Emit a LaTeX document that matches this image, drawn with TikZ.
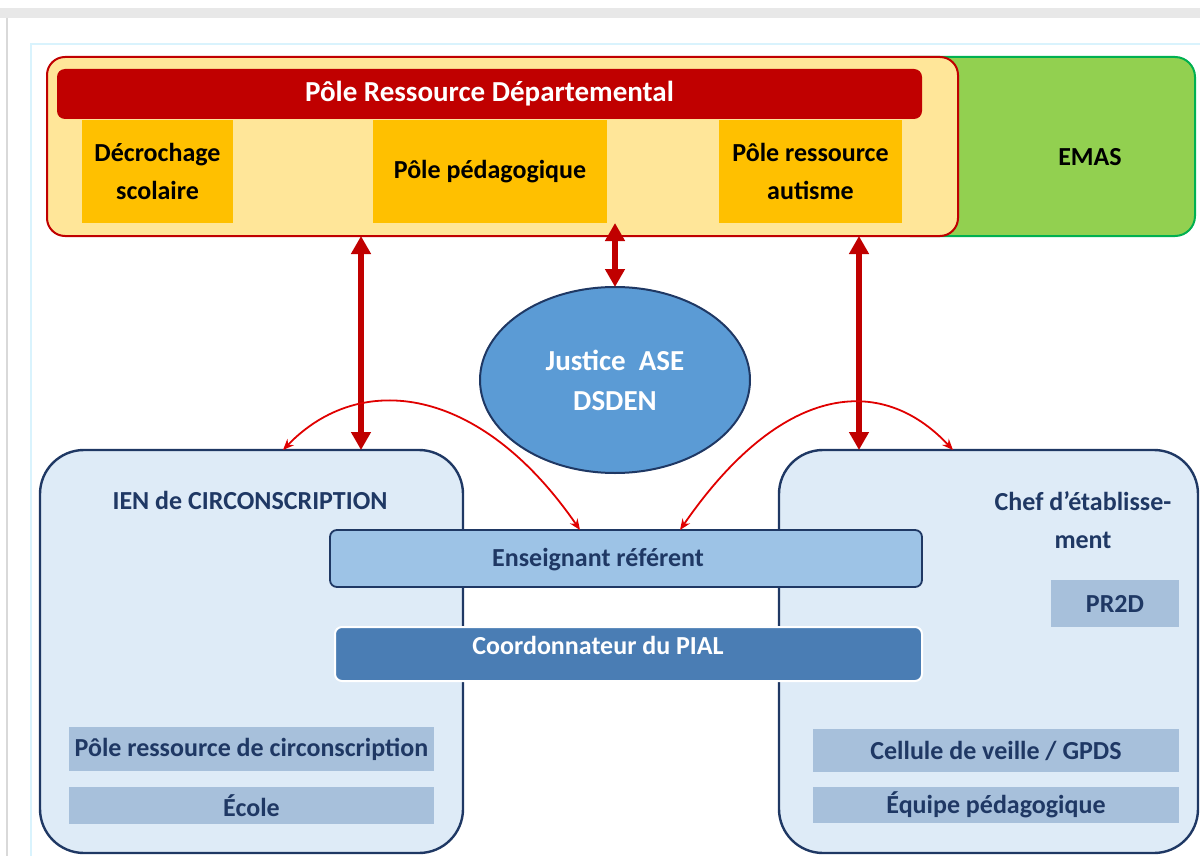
\documentclass[tikz,border=0pt]{standalone}
\usepackage{fontspec}
\setmainfont{Carlito}
\usepackage{tikz}
\usetikzlibrary{arrows.meta,shapes.geometric}

\definecolor{prdred}{HTML}{C00000}
\definecolor{thinred}{HTML}{E00000}
\definecolor{prdfill}{HTML}{FFE699}
\definecolor{amber}{HTML}{FFC000}
\definecolor{emasgreen}{HTML}{92D050}
\definecolor{emasline}{HTML}{00B050}
\definecolor{navy}{HTML}{1F3864}
\definecolor{paleblue}{HTML}{DEEBF7}
\definecolor{midblue}{HTML}{9DC3E6}
\definecolor{deepblue}{HTML}{4A7DB4}
\definecolor{ovalblue}{HTML}{5B9BD5}
\definecolor{barblue}{HTML}{A7C0DB}

\begin{document}
\begin{tikzpicture}[
				x=0.5pt, y=0.5pt,
				every node/.append style={font=\fontsize{13}{19}\selectfont\bfseries, inner sep=0pt, outer sep=0pt, align=center},
				frame/.style={rectangle, draw=prdred, line width=1pt, fill=prdfill, rounded corners=9pt},
				subbox/.style={rectangle, fill=amber, text=black},
				bigbox/.style={rectangle, draw=navy, line width=1.2pt, fill=paleblue, rounded corners=22pt},
				bar/.style={rectangle, fill=barblue, text=navy},
				lbl/.style={text=navy},
				twoway/.style={prdred, line width=3pt, {Triangle[length=9pt,width=9.5pt]}-{Triangle[length=9pt,width=9.5pt]}},
				curvy/.style={thinred, line width=0.9pt, {Stealth[length=5.5pt,width=4.5pt]}-{Stealth[length=5.5pt,width=4.5pt]}}
				]
				\useasboundingbox (0,0) rectangle (1200,-856);
				\fill[black!9] (0,-8) rectangle (1200,-18);
				\draw[black!15, line width=0.8pt] (7,-18) -- (7,-856);
				\draw[cyan!15, line width=0.8pt] (31,-856) |- (1200,-44);
				
				\node (emas) [rectangle, draw=emasline, line width=1pt, fill=emasgreen, rounded corners=10pt, minimum width=152.5pt, minimum height=89.5pt] at (1042.5,-146.5) {};
				\node (emastxt) [text=black] at (1090,-157) {EMAS};
				\node (prd) [frame, minimum width=455.5pt, minimum height=89.5pt] at (502.5,-146.5) {};
				\node (title) [rectangle, fill=prdred, rounded corners=4pt, text=white, font=\fontsize{14.5}{17}\selectfont\bfseries, minimum width=432.5pt, minimum height=25pt] at (489.5,-94) {Pôle Ressource Départemental};
				
				\node (dec) [subbox, minimum width=75.5pt, minimum height=51.5pt] at (157.5,-171.5) {Décrochage\\scolaire};
				\node (ped) [subbox, minimum width=117pt, minimum height=51.5pt] at (490,-171.5) {Pôle pédagogique};
				\node (aut) [subbox, minimum width=91.5pt, minimum height=51.5pt] at (810.5,-171.5) {Pôle ressource\\autisme};
				
				\node (just) [ellipse, draw=navy, line width=1pt, fill=ovalblue, text=white, font=\fontsize{14.5}{20}\selectfont\bfseries, minimum width=135pt, minimum height=93pt] at (615,-380) {Justice\ \ ASE\\DSDEN};
				
				\node (ien) [bigbox, minimum width=211.5pt, minimum height=201.5pt] at (251.5,-651.5) {};
				\node (chef) [bigbox, minimum width=209.5pt, minimum height=201.5pt] at (988.5,-651.5) {};
				\node (ientitle) [lbl] at (250,-500) {IEN de CIRCONSCRIPTION};
				\node (cheftitle) [lbl] at (1083,-520) {Chef d’établisse-\\ment};
				
				\node (ens) [rectangle, draw=navy, line width=0.9pt, fill=midblue, rounded corners=3.5pt, minimum width=296pt, minimum height=28.5pt] at (626,-558.5) {};
				\node (enstxt) [lbl] at (598,-560) {Enseignant référent};
				\node (pial) [rectangle, draw=white, line width=1pt, fill=deepblue, rounded corners=3.5pt, minimum width=293.5pt, minimum height=27pt] at (628.5,-654) {};
				\node (pialtxt) [text=white] at (598,-645) {Coordonnateur du PIAL};
				
				\node (circ) [bar, minimum width=182.5pt, minimum height=22pt] at (251.5,-749) {Pôle ressource de circonscription};
				\node (ecole) [bar, minimum width=182.5pt, minimum height=18.5pt] at (251.5,-805.5) {École};
				\node (pr2d) [bar, minimum width=64pt, minimum height=23.5pt] at (1115,-603.5) {PR2D};
				\node (cell) [bar, minimum width=183pt, minimum height=21.5pt] at (996,-750.5) {Cellule de veille / GPDS};
				\node (equipe) [bar, minimum width=183pt, minimum height=18pt] at (996,-805) {Équipe pédagogique};
				
				\draw [twoway] ([xshift=-70.75pt]prd.south) -- ([xshift=54.75pt]ien.north);
				\draw [twoway] ([shift={(56.25pt,6.5pt)}]prd.south) -- (just.north);
				\draw [twoway] ([xshift=178.25pt]prd.south) -- ([xshift=-64.75pt]chef.north);
				\draw [curvy] ([xshift=15.75pt]ien.north) .. controls +(77,80) and +(-100,145) .. ([xshift=-23pt]ens.north);
				\draw [curvy] ([xshift=27pt]ens.north) .. controls +(100,145) and +(-73,78) .. ([xshift=-17.75pt]chef.north);
			\end{tikzpicture}
\end{document}
